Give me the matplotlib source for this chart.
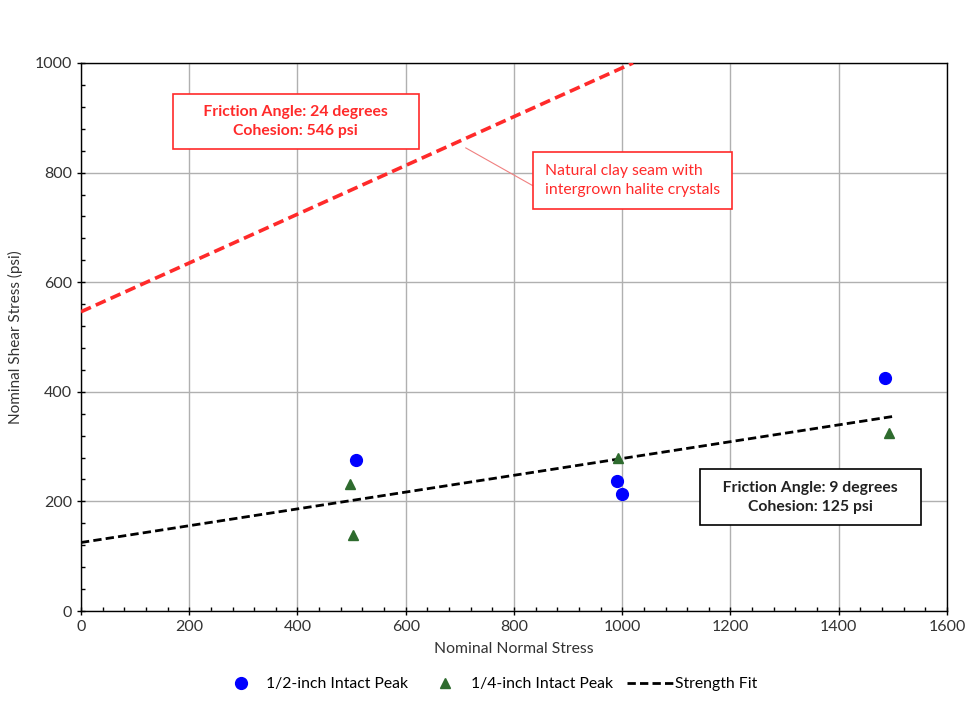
import matplotlib.pyplot as plt
import numpy as np

plt.rcParams['font.family'] = ['Lato', 'DejaVu Sans']

# data
half_inch_x = [508, 990, 1000, 1485]
half_inch_y = [275, 237, 213, 425]
quarter_inch_x = [497, 503, 992, 1493]
quarter_inch_y = [232, 139, 279, 325]

fit_x = [0, 1500]
fit_y = [125, 355]

clay_x = [0, 1020]
clay_y = [546, 1000]

fig = plt.figure(figsize=(9.65, 7.02), dpi=100)
ax = fig.add_axes([0.0839, 0.1296, 0.8974, 0.7807])

ax.plot(clay_x, clay_y, '--', color='#ff2a2a', lw=2.6, dashes=(3, 1.5), zorder=3)
ax.plot(fit_x, fit_y, '--', color='black', lw=2.0, dashes=(3, 1.5), zorder=3,
        label='Strength Fit')
ax.plot(half_inch_x, half_inch_y, 'o', color='#0000ff', markersize=8.5, zorder=4,
        label='1/2-inch Intact Peak')
ax.plot(quarter_inch_x, quarter_inch_y, '^', color='#2e6b2e', markersize=7.5, zorder=4,
        label='1/4-inch Intact Peak')

ax.set_xlim(0, 1600)
ax.set_ylim(0, 1000)
ax.set_xticks(np.arange(0, 1601, 200))
ax.set_yticks(np.arange(0, 1001, 200))
ax.set_xticks(np.arange(0, 1601, 40), minor=True)
ax.set_yticks(np.arange(0, 1001, 40), minor=True)
ax.grid(True, which='major', color='#b0b0b0', lw=1.0)
ax.tick_params(which='major', direction='inout', length=6, width=1.0, labelsize=11.5,
               colors='black', labelcolor='#333333')
ax.tick_params(which='minor', direction='in', length=3, width=1.0)
for s in ax.spines.values():
    s.set_color('black')
    s.set_linewidth(1.0)

ax.set_xlabel('Nominal Normal Stress', fontsize=11.3, color='#333333', labelpad=6)
ax.set_ylabel('Nominal Shear Stress (psi)', fontsize=11, color='#333333', labelpad=8)

# annotation boxes
ax.text(397, 893, '     Friction Angle: 24 degrees     \nCohesion: 546 psi', color='#ff2a2a',
        fontsize=11.3, fontweight='bold', ha='center', va='center', linespacing=1.45,
        bbox=dict(boxstyle='square,pad=0.72', fc='white', ec='#ff2a2a', lw=1.2), zorder=5)
ax.plot([711, 835], [845, 776], color='#f08080', lw=0.8, zorder=5)
ax.text(857, 786, 'Natural clay seam with\nintergrown halite crystals', color='#ff2a2a',
        fontsize=11.3, ha='left', va='center', linespacing=1.5,
        bbox=dict(boxstyle='square,pad=0.75', fc='white', ec='#ff2a2a', lw=1.2), zorder=5)
ax.text(1347, 208, '   Friction Angle: 9 degrees   \nCohesion: 125 psi', color='#222222',
        fontsize=11.3, fontweight='bold', ha='center', va='center', linespacing=1.45,
        bbox=dict(boxstyle='square,pad=0.72', fc='white', ec='black', lw=1.2), zorder=5)

h, l = ax.get_legend_handles_labels()
order = [1, 2, 0]
fig.legend([h[i] for i in order], [l[i] for i in order], loc='center',
           bbox_to_anchor=(0.505, 0.025), ncol=3, frameon=False, fontsize=11.3,
           handlelength=3.0, columnspacing=0.9, handletextpad=0.1)

fig.savefig('out.png', dpi=100)
